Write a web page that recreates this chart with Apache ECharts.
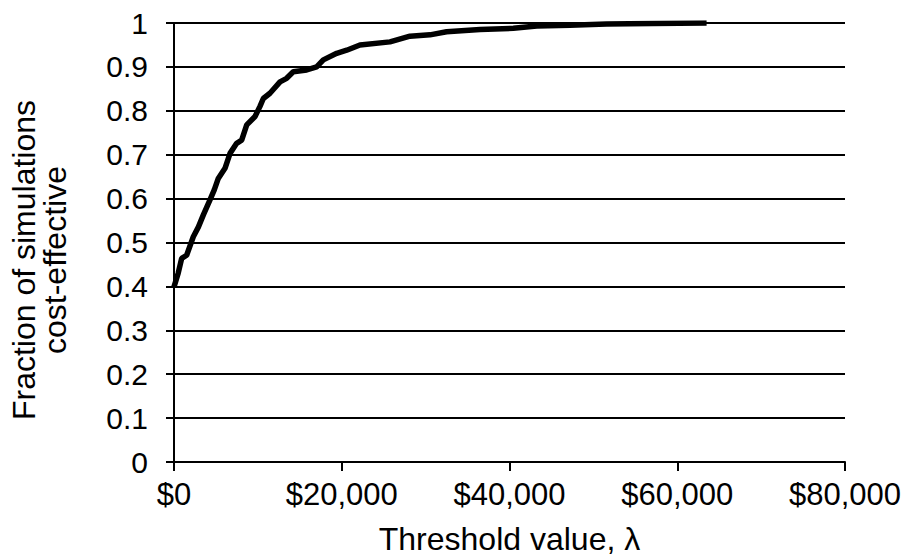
<!DOCTYPE html>
<html>
<head>
<meta charset="utf-8">
<script src="https://cdn.jsdelivr.net/npm/echarts@6/dist/echarts.min.js"></script>
<style>
  html, body { margin: 0; padding: 0; background: #fff; }
  #container { width: 901px; height: 559px; }
</style>
</head>
<body>
<div id="container"></div>
<script>
// threshold values (x) and fraction cost-effective (y)
var thresholdData = [0, 500, 915, 1510, 2300, 2900, 3500, 4290, 4800, 5280, 6080, 6680, 7470, 8070, 8670, 9660,
    10250, 10650, 11440, 12640, 13430, 14220, 15820, 17010, 17800, 19400, 20590, 22170, 25750, 28130,
    30520, 32500, 36480, 40460, 43250, 47200, 51580, 57000, 63500];
var fractionData = [0.399, 0.43, 0.464, 0.471, 0.513, 0.535, 0.563, 0.597, 0.62, 0.646, 0.669, 0.703, 0.726, 0.733, 0.768, 0.787,
    0.810, 0.828, 0.840, 0.866, 0.874, 0.889, 0.893, 0.900, 0.916, 0.931, 0.938, 0.950, 0.957, 0.970,
    0.973, 0.980, 0.985, 0.988, 0.993, 0.995, 0.998, 0.999, 1.0];

var seriesData = [];
for (var i = 0; i < thresholdData.length; i++) {
    seriesData.push([thresholdData[i], fractionData[i]]);
}

var dom = document.getElementById("container");
var myChart = echarts.init(dom, null, { renderer: 'svg' });
var font = 'Liberation Sans, Arial, sans-serif';
var option = {
    backgroundColor: '#fff',
    animation: false,
    grid: { left: 174, right: 56, top: 23, bottom: 97, containLabel: false, outerBoundsMode: 'none' },
    xAxis: {
        type: 'value',
        min: 0,
        max: 80000,
        interval: 20000,
        name: 'Threshold value, \u03bb',
        nameLocation: 'middle',
        nameGap: 61,
        nameTextStyle: { color: '#000', fontSize: 32, fontFamily: font, lineHeight: 32 },
        axisLine: { show: true, lineStyle: { color: '#000', width: 2 } },
        axisTick: { show: true, length: 9, lineStyle: { color: '#000', width: 2 } },
        axisLabel: {
            color: '#000', fontSize: 31, fontFamily: font, margin: 17,
            formatter: function (v) { return '$' + v.toLocaleString('en-US'); }
        },
        splitLine: { show: false }
    },
    yAxis: {
        type: 'value',
        min: 0,
        max: 1,
        interval: 0.1,
        name: 'Fraction of simulations\ncost-effective',
        nameLocation: 'middle',
        nameGap: 104,
        nameTextStyle: { color: '#000', fontSize: 32, fontFamily: font, lineHeight: 31, padding: [0, 35, 0, 0] },
        axisLine: { show: true, lineStyle: { color: '#000', width: 2 } },
        axisTick: { show: true, length: 8, lineStyle: { color: '#000', width: 2 } },
        axisLabel: {
            color: '#000', fontSize: 30, fontFamily: font, margin: 26,
            formatter: function (v) { return String(Math.round(v * 10) / 10); }
        },
        splitLine: { show: true, lineStyle: { color: '#000', width: 2 } }
    },
    series: [{
        type: 'line',
        data: seriesData,
        symbol: 'none',
        lineStyle: { color: '#000', width: 5.5 }
    }]
};
myChart.setOption(option, true);
</script>
</body>
</html>
